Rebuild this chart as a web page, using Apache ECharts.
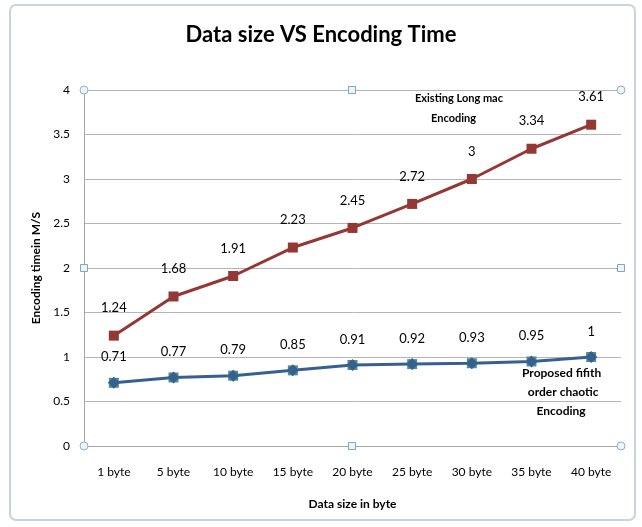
<!DOCTYPE html>
<html><head><meta charset="utf-8">
<script src="https://cdn.jsdelivr.net/npm/echarts@6/dist/echarts.min.js"></script>
<style>html,body{margin:0;padding:0;background:#fff}#c{width:642px;height:527px}</style>
</head><body><div id="c"></div>
<script>
const categories = ['1 byte','5 byte','10 byte','15 byte','20 byte','25 byte','30 byte','35 byte','40 byte'];
const existing = [1.24,1.68,1.91,2.23,2.45,2.72,3,3.34,3.61];
const proposed = [0.71,0.77,0.79,0.85,0.91,0.92,0.93,0.95,1];
const yTicks = [0,0.5,1,1.5,2,2.5,3,3.5,4];
const F = 'Lato, "Open Sans", sans-serif';
const chart = echarts.init(document.getElementById('c'));
const handle = (type,x,y)=> type==='c'
  ? {type:'circle',shape:{cx:x,cy:y,r:4},style:{fill:'#eef5f8',stroke:'#8fb3c4',lineWidth:1},z:100}
  : {type:'rect',shape:{x:x-3.5,y:y-3.5,width:7,height:7},style:{fill:'#eef5f8',stroke:'#7fa6c2',lineWidth:1},z:100};
chart.setOption({
  animation:false,
  backgroundColor:'#fff',
  title:{text:'Data size VS Encoding Time',left:'center',top:19,textStyle:{fontFamily:F,fontSize:22,fontWeight:'bold',color:'#000'}},
  grid:{left:84,right:21,top:90,bottom:81},
  xAxis:{type:'category',data:categories,boundaryGap:true,
    name:'Data size in byte',nameLocation:'middle',nameGap:52,
    nameTextStyle:{fontFamily:F,fontSize:12,fontWeight:'bold',color:'#000'},
    axisLine:{lineStyle:{color:'#a6a6a6'}},axisTick:{show:false},
    axisLabel:{fontFamily:F,fontSize:12,color:'#000',margin:20}},
  yAxis:{type:'value',min:0,max:4,interval:0.5,
    name:'Encoding timein M/S',nameLocation:'middle',nameGap:42,
    nameTextStyle:{fontFamily:F,fontSize:12,fontWeight:'bold',color:'#000'},
    axisLine:{show:true,lineStyle:{color:'#a6a6a6'}},axisTick:{show:false},
    axisLabel:{fontFamily:F,fontSize:12,color:'#000',margin:14,formatter:v=>yTicks.includes(v)?String(v):''},
    splitLine:{lineStyle:{color:'#b5b5b5'}}},
  series:[
    {name:'Existing Long mac Encoding',type:'line',data:existing,symbol:'rect',symbolSize:10,
     lineStyle:{color:'#953735',width:3},itemStyle:{color:'#953735'},
     label:{show:true,position:'top',distance:16,fontFamily:F,fontSize:13,color:'#000'}},
    {name:'Proposed fifith order chaotic Encoding',type:'line',data:proposed,symbol:'rect',symbolSize:10,
     lineStyle:{color:'#376092',width:3},itemStyle:{color:'#4f8f8f'},
     label:{show:true,position:'top',distance:14,fontFamily:F,fontSize:13,color:'#000'}},
    {name:'p2',type:'line',data:proposed,symbol:'diamond',symbolSize:12,lineStyle:{width:0,opacity:0},
     itemStyle:{color:'#35608f'},silent:true}
  ],
  graphic:[
    {type:'rect',shape:{x:10,y:5,width:625,height:515,r:6},style:{fill:'none',stroke:'#c5d5dc',lineWidth:2}},
    {type:'text',left:415,top:88,style:{text:'Existing Long mac\n      Encoding',font:'bold 11px '+F,fill:'#000',lineHeight:20}},
    {type:'text',left:522,top:364,style:{text:'Proposed fifith\n  order chaotic\n     Encoding',font:'bold 12px '+F,fill:'#000',lineHeight:19}},
    handle('c',84,90),handle('c',621,90),handle('c',84,446),handle('c',621,446),
    handle('r',352,90),handle('r',352,446),handle('r',84,268),handle('r',621,268)
  ]
});
</script></body></html>
